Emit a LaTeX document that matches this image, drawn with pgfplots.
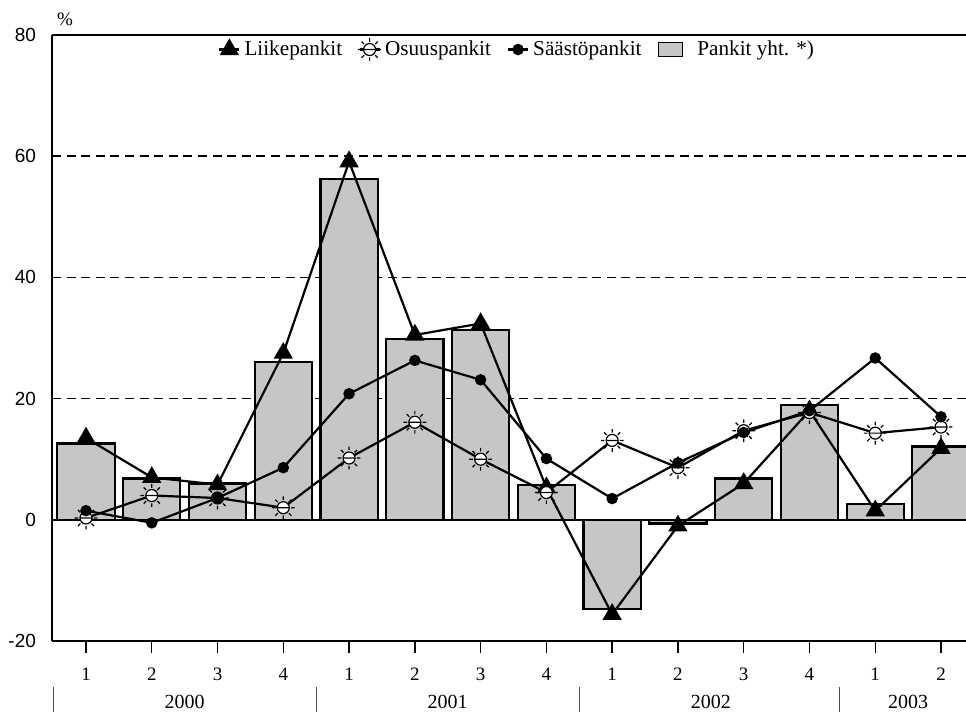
\documentclass[border=0pt]{standalone}
\usepackage{fontspec}
\setmainfont{Liberation Serif}
\newfontfamily\sansf{Liberation Sans}
\usepackage{pgfplots}
\pgfplotsset{compat=1.18}
\definecolor{barfill}{RGB}{198,198,198}
\newcommand\sunray[1]{\pgfpathmoveto{\pgfpointpolar{#1}{1.3\pgfplotmarksize}}\pgfpathlineto{\pgfpointpolar{#1}{1.9\pgfplotmarksize}}}
\pgfdeclareplotmark{sun}{%
  \pgfpathcircle{\pgfpointorigin}{\pgfplotmarksize}%
  \pgfusepathqfillstroke
  \pgfpathmoveto{\pgfqpoint{-\pgfplotmarksize}{0pt}}%
  \pgfpathlineto{\pgfqpoint{\pgfplotmarksize}{0pt}}%
  \sunray{0}\sunray{45}\sunray{90}\sunray{135}\sunray{180}\sunray{225}\sunray{270}\sunray{315}%
  \pgfusepathqstroke
}
\begin{document}
\begin{tikzpicture}
\begin{axis}[
  scale only axis, width=457pt, height=303pt,
  xmin=0.483, xmax=14.38, ymin=-20, ymax=80,
  axis x line*=box, axis y line*=left,
  axis line style={line width=1.3pt, black},
  xtick={1,...,14}, xticklabels={1,2,3,4,1,2,3,4,1,2,3,4,1,2},
  xtick pos=left, xtick align=outside, major tick length=6pt,
  xtick style={line width=0.7pt, black},
  ytick={-20,0,20,40,60,80}, yticklabels={-20,0,20,40,60,80},
  ytick style={draw=none},
  yticklabel style={font=\sansf\fontsize{9.5}{10}\selectfont, xshift=-4.5pt},
  xticklabel style={font=\fontsize{9.5}{10}\selectfont, yshift=-4pt},
  ymajorgrids, grid style={black, line width=0.9pt, dash pattern=on 4.5pt off 2.8pt},
  clip mode=individual,
  legend style={at={(0.51,0.976)}, anchor=center, draw=none, fill=none,
    font=\fontsize{10.6}{12}\selectfont, inner sep=1pt,
    /tikz/every even column/.append style={column sep=6pt}},
  legend columns=-1,
  legend image code/.code={\draw[mark repeat=2,mark phase=2,#1] plot coordinates {(0pt,0pt) (5pt,0pt) (10pt,0pt)};},
]
\draw[line width=1pt, black] (axis cs:0.483,0) -- (axis cs:14.38,0);
\addplot[ybar, bar width=0.87, bar shift=0pt, fill=barfill, draw=black, line width=1.1pt, forget plot]
  coordinates {(1,12.6) (2,6.8) (3,6.0) (4,26.0) (5,56.3) (6,29.8) (7,31.3) (8,5.8) (9,-14.7) (10,-0.6) (11,6.8) (12,18.9) (13,2.6) (14,12.1)};
\addplot[black, line width=1.1pt, mark=triangle*, mark size=4.5pt, mark options={solid, fill=black}]
  coordinates {(1,13.5) (2,7.0) (3,5.8) (4,27.5) (5,59.1) (6,30.5) (7,32.4) (8,5.3) (9,-15.6) (10,-1.0) (11,6.0) (12,18.0) (13,1.5) (14,11.8)};
\addlegendentry{Liikepankit}
\addplot[black, line width=1.1pt, mark=sun, mark size=3pt, mark options={solid, fill=white, line width=0.6pt}]
  coordinates {(1,0.3) (2,4.0) (3,3.6) (4,2.0) (5,10.2) (6,16.1) (7,10.0) (8,4.5) (9,13.1) (10,8.6) (11,14.7) (12,17.7) (13,14.3) (14,15.3)};
\addlegendentry{Osuuspankit}
\addplot[black, line width=1.1pt, mark=*, mark size=2.3pt, mark options={solid, fill=black}]
  coordinates {(1,1.5) (2,-0.5) (3,3.6) (4,8.6) (5,20.8) (6,26.3) (7,23.1) (8,10.1) (9,3.5) (10,9.4) (11,14.4) (12,18.0) (13,26.7) (14,17.0)};
\addlegendentry{Säästöpankit}
\addlegendimage{legend image code/.code={\draw[fill=barfill, draw=black, line width=0.9pt] (0pt,-3.5pt) rectangle (12pt,3.5pt);}}
\addlegendentry{\hspace{5pt}Pankit yht. *)}
\node[font=\fontsize{9.5}{10}\selectfont] at (rel axis cs:0,1) [xshift=6.5pt, yshift=8pt] {\%};
\node[font=\fontsize{10}{11}\selectfont] at (axis cs:2.5,-20) [yshift=-30.5pt] {2000};
\node[font=\fontsize{10}{11}\selectfont] at (axis cs:6.5,-20) [yshift=-30.5pt] {2001};
\node[font=\fontsize{10}{11}\selectfont] at (axis cs:10.5,-20) [yshift=-30.5pt] {2002};
\node[font=\fontsize{10}{11}\selectfont] at (axis cs:13.5,-20) [yshift=-30.5pt] {2003};
\draw[line width=0.5pt, black!70] ([yshift=-23pt]axis cs:0.5,-20) -- ([yshift=-36pt]axis cs:0.5,-20);
\draw[line width=0.5pt, black!70] ([yshift=-23pt]axis cs:4.5,-20) -- ([yshift=-36pt]axis cs:4.5,-20);
\draw[line width=0.5pt, black!70] ([yshift=-23pt]axis cs:8.5,-20) -- ([yshift=-36pt]axis cs:8.5,-20);
\draw[line width=0.5pt, black!70] ([yshift=-23pt]axis cs:12.46,-20) -- ([yshift=-36pt]axis cs:12.46,-20);
\end{axis}
\pgfresetboundingbox
\path (-26pt,-35.5pt) rectangle (457pt,320.5pt);
\end{tikzpicture}
\end{document}
